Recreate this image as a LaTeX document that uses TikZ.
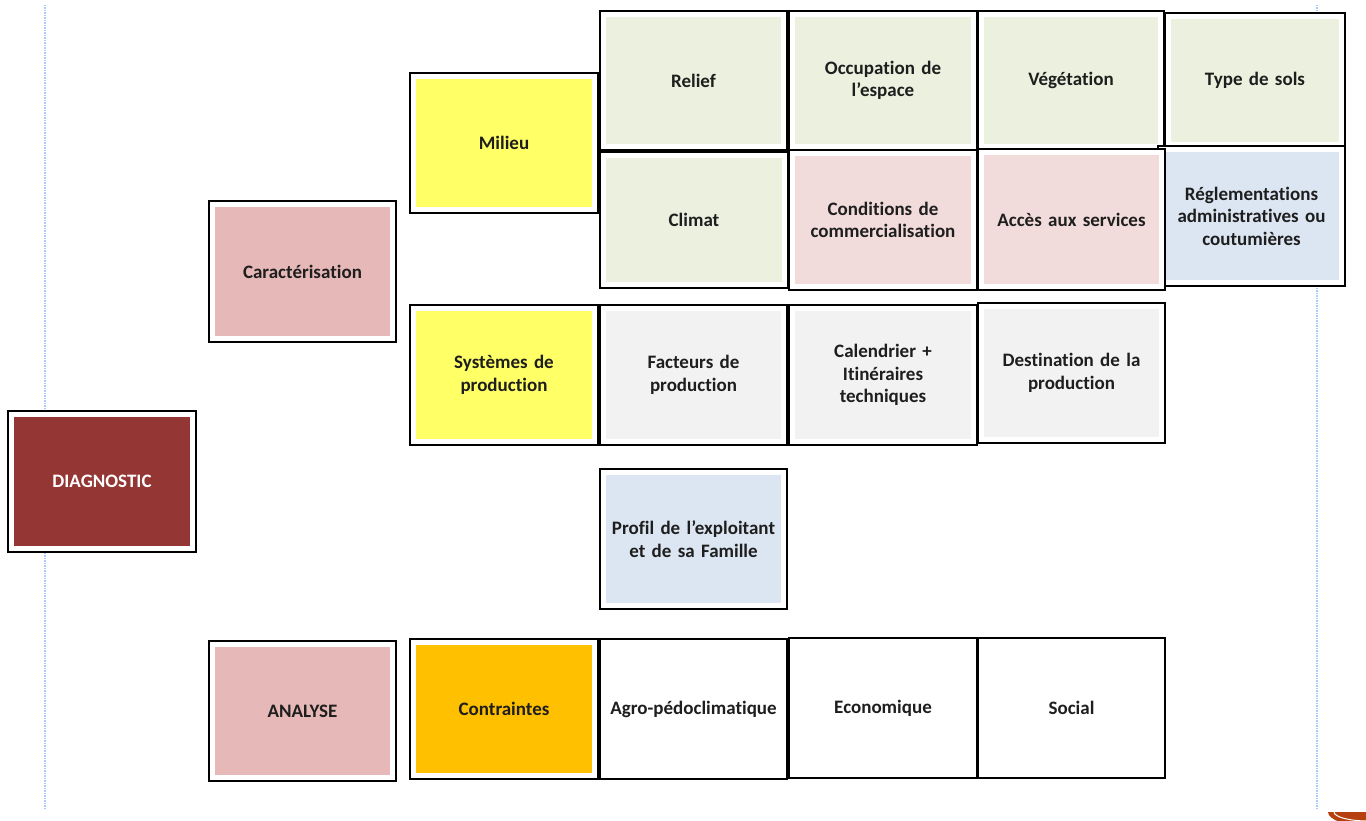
\documentclass[tikz,border=0pt]{standalone}
\usepackage{fontspec}
\setmainfont{Carlito}[Ligatures=NoCommon]
\definecolor{cgreen}{HTML}{EBF1DE}
\definecolor{cpink}{HTML}{F2DCDB}
\definecolor{cblue}{HTML}{DCE6F2}
\definecolor{cgray}{HTML}{F2F2F2}
\definecolor{crose}{HTML}{E6B8B7}
\definecolor{cdark}{HTML}{943634}
\definecolor{cyellow}{HTML}{FFFF66}
\definecolor{corange}{HTML}{FFC000}
\definecolor{cguide}{HTML}{A8CBFF}
\definecolor{clogo}{HTML}{B7410E}
\definecolor{ctext}{HTML}{1E1E1E}
\tikzset{
  cell/.style={draw=black, line width=1.3pt, fill=white, inner sep=0pt,
    minimum width=#1, text=ctext, font=\bfseries\fontsize{19}{22.5}\selectfont,
    align=center, text width=180pt},
  inset/.style={path picture={\fill[#1]
      ([shift={(6pt,-6pt)}]path picture bounding box.north west) rectangle
      ([shift={(-6pt,6pt)}]path picture bounding box.south east);}},
  guide/.style={cguide, line width=1.2pt, dash pattern=on 1.5pt off 1pt}
}
\begin{document}
\begin{tikzpicture}[x=1pt,y=-1pt]
\useasboundingbox (0,0) rectangle (1366,821);
% guide lines
\coordinate (gl1) at (45,5); \coordinate (gl2) at (45,810);
\coordinate (gr1) at (1317,5); \coordinate (gr2) at (1317,810);
\draw[guide] (gl1) -- (gl2);
\draw[guide] (gr1) -- (gr2);
% logo fragment
\fill[clogo] (1328,812) arc[start angle=180,end angle=360,x radius=40,y radius=-14] -- cycle;
\draw[white,line width=1pt] (1334,812) arc[start angle=180,end angle=360,x radius=34,y radius=-9];
% first column
\node[cell=188pt, minimum height=141pt, inset=cdark, text=white] (diag) at (102,481.5) {DIAGNOSTIC};
\node[cell=187pt, minimum height=141pt, inset=crose] (carac) at (302.5,271.5) {Caractérisation};
\node[cell=187pt, minimum height=140pt, inset=crose] (analyse) at (302.5,711) {ANALYSE};
% second column
\node[cell=188pt, minimum height=140pt, inset=cyellow] (milieu) at (504,143) {Milieu};
\node[cell=188pt, minimum height=140pt, inset=cyellow] (systemes) at (504,375) {Systèmes de\\production};
\node[cell=188pt, minimum height=140pt, inset=corange] (contraintes) at (504,709) {Contraintes};
% milieu rows
\node[cell=187pt, minimum height=139pt, inset=cgreen] (relief) at (693.5,80.5) {Relief};
\node[cell=188pt, minimum height=139pt, inset=cgreen] (occup) at (883,80.5) {Occupation de\\l’espace};
\node[cell=186pt, minimum height=139pt, inset=cgreen] (veget) at (1071,80.5) {Végétation};
\node[cell=180pt, minimum height=135pt, inset=cgreen] (sols) at (1255,80.5) {Type de sols};
\node[cell=187pt, minimum height=140pt, inset=cblue] (regl) at (1251.5,216) {Réglementations\\administratives ou\\coutumières};
\node[cell=188pt, minimum height=136pt, inset=cgreen] (climat) at (694,220) {Climat};
\node[cell=188pt, minimum height=140pt, inset=cpink] (cond) at (883,220) {Conditions de\\commercialisation};
\node[cell=187pt, minimum height=141pt, inset=cpink] (acces) at (1071.5,219.5) {Accès aux services};
% systemes row
\node[cell=187pt, minimum height=140pt, inset=cgray] (facteurs) at (693.5,375) {Facteurs de\\production};
\node[cell=188pt, minimum height=140pt, inset=cgray] (calend) at (883,375) {Calendrier +\\Itinéraires\\techniques};
\node[cell=187pt, minimum height=140pt, inset=cgray] (dest) at (1071.5,373) {Destination de la\\production};
% profil
\node[cell=187pt, minimum height=140pt, inset=cblue] (profil) at (693.5,539) {Profil de l’exploitant\\et de sa Famille};
% contraintes row
\node[cell=187pt, minimum height=140pt] (agro) at (693.5,709) {Agro-pédoclimatique};
\node[cell=188pt, minimum height=140pt] (eco) at (883,708) {Economique};
\node[cell=187pt, minimum height=140pt] (social) at (1071.5,708) {Social};
\end{tikzpicture}
\end{document}
